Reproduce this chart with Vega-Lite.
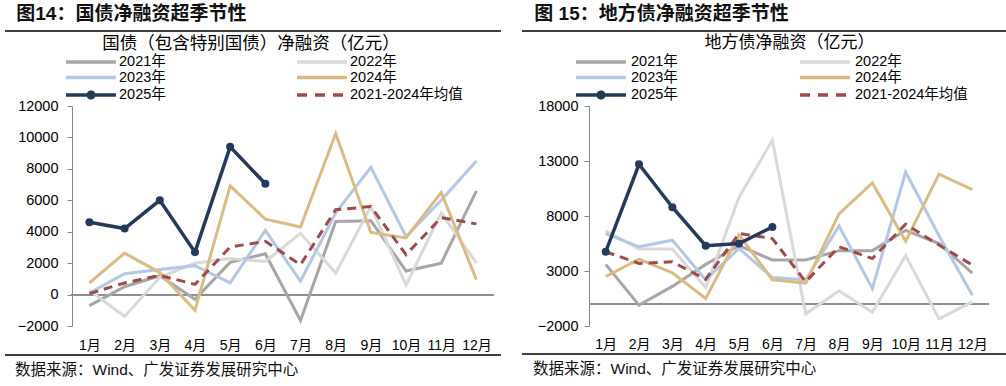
{
  "$schema": "https://vega.github.io/schema/vega-lite/v6.json",
  "padding": {"left": 4, "top": 5, "right": 0, "bottom": 0},
  "background": "white",
  "config": {
    "view": {"stroke": null},
    "font": "Liberation Sans, Noto Sans CJK SC",
    "axis": {"labelOverlap": false}
  },
  "datasets": {
    "gz": [
      {"s":"2021年","n":1,"v":-700},{"s":"2021年","n":2,"v":500},{"s":"2021年","n":3,"v":1200},{"s":"2021年","n":4,"v":-300},{"s":"2021年","n":5,"v":2050},{"s":"2021年","n":6,"v":2600},{"s":"2021年","n":7,"v":-1650},{"s":"2021年","n":8,"v":4650},{"s":"2021年","n":9,"v":4700},{"s":"2021年","n":10,"v":1500},{"s":"2021年","n":11,"v":2000},{"s":"2021年","n":12,"v":6600},
      {"s":"2022年","n":1,"v":270},{"s":"2022年","n":2,"v":-1400},{"s":"2022年","n":3,"v":1100},{"s":"2022年","n":4,"v":2000},{"s":"2022年","n":5,"v":2300},{"s":"2022年","n":6,"v":2100},{"s":"2022年","n":7,"v":3900},{"s":"2022年","n":8,"v":1370},{"s":"2022年","n":9,"v":5600},{"s":"2022年","n":10,"v":600},{"s":"2022年","n":11,"v":5200},{"s":"2022年","n":12,"v":2000},
      {"s":"2023年","n":1,"v":100},{"s":"2023年","n":2,"v":1330},{"s":"2023年","n":3,"v":1600},{"s":"2023年","n":4,"v":1840},{"s":"2023年","n":5,"v":740},{"s":"2023年","n":6,"v":4080},{"s":"2023年","n":7,"v":850},{"s":"2023年","n":8,"v":5200},{"s":"2023年","n":9,"v":8100},{"s":"2023年","n":10,"v":3700},{"s":"2023年","n":11,"v":6000},{"s":"2023年","n":12,"v":8500},
      {"s":"2024年","n":1,"v":750},{"s":"2024年","n":2,"v":2640},{"s":"2024年","n":3,"v":1400},{"s":"2024年","n":4,"v":-1000},{"s":"2024年","n":5,"v":6920},{"s":"2024年","n":6,"v":4800},{"s":"2024年","n":7,"v":4300},{"s":"2024年","n":8,"v":10250},{"s":"2024年","n":9,"v":3950},{"s":"2024年","n":10,"v":3600},{"s":"2024年","n":11,"v":6500},{"s":"2024年","n":12,"v":950},
      {"s":"2021-2024年均值","n":1,"v":60},{"s":"2021-2024年均值","n":2,"v":740},{"s":"2021-2024年均值","n":3,"v":1220},{"s":"2021-2024年均值","n":4,"v":650},{"s":"2021-2024年均值","n":5,"v":3020},{"s":"2021-2024年均值","n":6,"v":3390},{"s":"2021-2024年均值","n":7,"v":1900},{"s":"2021-2024年均值","n":8,"v":5400},{"s":"2021-2024年均值","n":9,"v":5600},{"s":"2021-2024年均值","n":10,"v":2540},{"s":"2021-2024年均值","n":11,"v":4900},{"s":"2021-2024年均值","n":12,"v":4500},
      {"s":"2025年","n":1,"v":4600},{"s":"2025年","n":2,"v":4200},{"s":"2025年","n":3,"v":6000},{"s":"2025年","n":4,"v":2700},{"s":"2025年","n":5,"v":9400},{"s":"2025年","n":6,"v":7050}
    ],
    "df": [
      {"s":"2021年","n":1,"v":3600},{"s":"2021年","n":2,"v":-100},{"s":"2021年","n":3,"v":1600},{"s":"2021年","n":4,"v":3600},{"s":"2021年","n":5,"v":5300},{"s":"2021年","n":6,"v":4000},{"s":"2021年","n":7,"v":4000},{"s":"2021年","n":8,"v":4850},{"s":"2021年","n":9,"v":4850},{"s":"2021年","n":10,"v":6700},{"s":"2021年","n":11,"v":5500},{"s":"2021年","n":12,"v":2800},
      {"s":"2022年","n":1,"v":6650},{"s":"2022年","n":2,"v":5000},{"s":"2022年","n":3,"v":5000},{"s":"2022年","n":4,"v":1500},{"s":"2022年","n":5,"v":9700},{"s":"2022年","n":6,"v":14900},{"s":"2022年","n":7,"v":-900},{"s":"2022年","n":8,"v":1200},{"s":"2022年","n":9,"v":-750},{"s":"2022年","n":10,"v":4400},{"s":"2022年","n":11,"v":-1350},{"s":"2022年","n":12,"v":200},
      {"s":"2023年","n":1,"v":6400},{"s":"2023年","n":2,"v":5200},{"s":"2023年","n":3,"v":5800},{"s":"2023年","n":4,"v":2200},{"s":"2023年","n":5,"v":5050},{"s":"2023年","n":6,"v":2400},{"s":"2023年","n":7,"v":2200},{"s":"2023年","n":8,"v":7100},{"s":"2023年","n":9,"v":1400},{"s":"2023年","n":10,"v":12000},{"s":"2023年","n":11,"v":6200},{"s":"2023年","n":12,"v":800},
      {"s":"2024年","n":1,"v":2500},{"s":"2024年","n":2,"v":4080},{"s":"2024年","n":3,"v":2840},{"s":"2024年","n":4,"v":500},{"s":"2024年","n":5,"v":6300},{"s":"2024年","n":6,"v":2200},{"s":"2024年","n":7,"v":1900},{"s":"2024年","n":8,"v":8200},{"s":"2024年","n":9,"v":11000},{"s":"2024年","n":10,"v":5700},{"s":"2024年","n":11,"v":11800},{"s":"2024年","n":12,"v":10400},
      {"s":"2021-2024年均值","n":1,"v":4750},{"s":"2021-2024年均值","n":2,"v":3690},{"s":"2021-2024年均值","n":3,"v":3840},{"s":"2021-2024年均值","n":4,"v":2240},{"s":"2021-2024年均值","n":5,"v":6410},{"s":"2021-2024年均值","n":6,"v":5950},{"s":"2021-2024年均值","n":7,"v":2020},{"s":"2021-2024年均值","n":8,"v":5200},{"s":"2021-2024年均值","n":9,"v":4140},{"s":"2021-2024年均值","n":10,"v":7260},{"s":"2021-2024年均值","n":11,"v":5360},{"s":"2021-2024年均值","n":12,"v":3540},
      {"s":"2025年","n":1,"v":4750},{"s":"2025年","n":2,"v":12700},{"s":"2025年","n":3,"v":8800},{"s":"2025年","n":4,"v":5300},{"s":"2025年","n":5,"v":5500},{"s":"2025年","n":6,"v":7000}
    ]
  },
  "hconcat": [
    {
      "columns": 1,
      "spacing": 2,
      "title": {"text": "图14：国债净融资超季节性", "anchor": "start", "frame": "bounds", "fontSize": 19, "fontWeight": "bold", "font": "Liberation Sans, Noto Sans CJK SC", "color": "#111111", "offset": 6, "dx": 12},
      "resolve": {"scale": {"color": "independent"}, "legend": {"color": "independent"}},
      "concat": [
        {
          "width": 496, "height": 2,
          "data": {"values": [{}]},
          "mark": {"type": "rule", "color": "#000000", "strokeWidth": 1.4},
          "encoding": {
            "x": {"datum": 0, "type": "quantitative", "scale": {"domain": [0, 1], "nice": false, "zero": false}, "axis": null},
            "x2": {"datum": 1},
            "y": {"datum": 0.5, "type": "quantitative", "scale": {"domain": [0, 1], "nice": false, "zero": false}, "axis": null}
          }
        },
        {
          "width": 496, "height": 220,
          "data": {"name": "gz"},
          "title": {"text": "国债（包含特别国债）净融资（亿元）", "anchor": "middle", "frame": "group", "dx": -2, "fontSize": 17.5, "fontWeight": "normal", "font": "Noto Sans CJK SC", "color": "#000000", "offset": 2},
          "encoding": {
            "x": {"field": "n", "type": "quantitative", "scale": {"domain": [-1.4, 12.699], "nice": false, "zero": false}, "axis": {"title": null, "values": [1,2,3,4,5,6,7,8,9,10,11,12], "grid": false, "domain": false, "ticks": false, "labelFlush": false, "labelExpr": "datum.value + '月'", "labelPadding": 12, "labelFontSize": 14, "labelFont": "Liberation Sans, Noto Sans CJK SC", "labelColor": "#000000", "labelAngle": 0}},
            "y": {"field": "v", "type": "quantitative", "scale": {"domain": [-2000, 12000], "nice": false, "zero": false}, "axis": {"title": null, "offset": -67, "values": [-2000, 0, 2000, 4000, 6000, 8000, 10000, 12000], "format": "d", "labelOverlap": false, "grid": false, "domain": true, "domainColor": "#888888", "ticks": true, "tickColor": "#888888", "tickSize": 5, "labelPadding": 9, "labelFontSize": 14.5, "labelFont": "Liberation Sans", "labelColor": "#000000"}}
          },
          "layer": [
            {"mark": {"type": "rule", "color": "#8c8c8c", "strokeWidth": 1},
             "encoding": {
               "x": {"datum": 0.5, "type": "quantitative", "axis": {"title": null, "values": [1,2,3,4,5,6,7,8,9,10,11,12], "grid": false, "domain": false, "ticks": false, "labelFlush": false, "labelExpr": "datum.value + '月'", "labelPadding": 12, "labelFontSize": 14, "labelFont": "Liberation Sans, Noto Sans CJK SC", "labelColor": "#000000", "labelAngle": 0}},
               "x2": {"datum": 12.5},
               "y": {"datum": 0, "type": "quantitative", "axis": {"title": null, "offset": -67, "values": [-2000, 0, 2000, 4000, 6000, 8000, 10000, 12000], "format": "d", "labelOverlap": false, "grid": false, "domain": true, "domainColor": "#888888", "ticks": true, "tickColor": "#888888", "tickSize": 5, "labelPadding": 9, "labelFontSize": 14.5, "labelFont": "Liberation Sans", "labelColor": "#000000"}}
             }},
            {
              "transform": [{"filter": {"field": "s", "oneOf": ["2021年", "2022年", "2023年", "2024年"]}}],
              "mark": {"type": "line", "strokeWidth": 3},
              "encoding": {
                "color": {"field": "s", "type": "nominal",
                  "scale": {"domain": ["2021年", "2022年", "2023年", "2024年", "2025年", "2021-2024年均值"], "range": ["#A6A6A6", "#D9D9D9", "#B4C7E7", "#DCBB83", "#25395A", "#A04A4A"]},
                  "legend": {"orient": "top", "columns": 2, "title": null, "symbolType": "M8.49,0H16.49", "symbolSize": 156, "symbolStrokeWidth": 3.5, "labelFontSize": 14.5, "labelFont": "Liberation Sans, Noto Sans CJK SC", "labelColor": "#000000", "labelOffset": 98, "columnPadding": 70, "rowPadding": 0.5, "offset": 1,
                    "encode": {"symbols": {"update": {
                      "shape": {"signal": "datum.value === '2025年' ? 'M8.49,0H16.49M12.04,0A0.45,0.45 0 1 1 12.94,0A0.45,0.45 0 1 1 12.04,0Z' : 'M8.49,0H16.49'"},
                      "strokeDash": {"signal": "datum.value === '2021-2024年均值' ? [10,8] : [1,0]"},
                      "fill": {"signal": "datum.value === '2025年' ? '#25395A' : 'transparent'"},
                      "strokeWidth": {"value": 3.5}
                    }}}}
                }
              }
            },
            {
              "transform": [{"filter": {"field": "s", "equal": "2021-2024年均值"}}],
              "mark": {"type": "line", "strokeWidth": 3, "strokeDash": [9, 6]},
              "encoding": {"color": {"field": "s", "type": "nominal"}}
            },
            {
              "transform": [{"filter": {"field": "s", "equal": "2025年"}}],
              "mark": {"type": "line", "strokeWidth": 3.5, "point": {"filled": true, "size": 64}},
              "encoding": {"color": {"field": "s", "type": "nominal"}}
            }
          ]
        },
        {
          "width": 496, "height": 2,
          "data": {"values": [{}]},
          "mark": {"type": "rule", "color": "#000000", "strokeWidth": 1.3},
          "encoding": {
            "x": {"datum": 0, "type": "quantitative", "scale": {"domain": [0, 1], "nice": false, "zero": false}, "axis": null},
            "x2": {"datum": 1},
            "y": {"datum": 0.5, "type": "quantitative", "scale": {"domain": [0, 1], "nice": false, "zero": false}, "axis": null}
          },
          "title": {"text": "数据来源：Wind、广发证券发展研究中心", "orient": "bottom", "anchor": "start", "frame": "group", "fontSize": 15.5, "fontWeight": "normal", "font": "Liberation Sans, Noto Sans CJK SC", "color": "#111111", "offset": 7, "dx": 10}
        }
      ]
    },
    {
      "columns": 1,
      "spacing": 2,
      "title": {"text": "图 15：地方债净融资超季节性", "anchor": "start", "frame": "bounds", "fontSize": 19, "fontWeight": "bold", "font": "Liberation Sans, Noto Sans CJK SC", "color": "#111111", "offset": 6, "dx": 13},
      "resolve": {"scale": {"color": "independent"}, "legend": {"color": "independent"}},
      "concat": [
        {
          "width": 487, "height": 2,
          "data": {"values": [{}]},
          "mark": {"type": "rule", "color": "#000000", "strokeWidth": 1.4},
          "encoding": {
            "x": {"datum": 0, "type": "quantitative", "scale": {"domain": [0, 1], "nice": false, "zero": false}, "axis": null},
            "x2": {"datum": 1},
            "y": {"datum": 0.5, "type": "quantitative", "scale": {"domain": [0, 1], "nice": false, "zero": false}, "axis": null}
          }
        },
        {
          "width": 487, "height": 220,
          "data": {"name": "df"},
          "title": {"text": "地方债净融资（亿元）", "anchor": "middle", "frame": "group", "dx": 24, "fontSize": 17, "fontWeight": "normal", "font": "Noto Sans CJK SC", "color": "#000000", "offset": 2},
          "encoding": {
            "x": {"field": "n", "type": "quantitative", "scale": {"domain": [-1.511, 13.1], "nice": false, "zero": false}, "axis": {"title": null, "values": [1,2,3,4,5,6,7,8,9,10,11,12], "grid": false, "domain": false, "ticks": false, "labelFlush": false, "labelExpr": "datum.value + '月'", "labelPadding": 11, "labelFontSize": 14, "labelFont": "Liberation Sans, Noto Sans CJK SC", "labelColor": "#000000", "labelAngle": 0}},
            "y": {"field": "v", "type": "quantitative", "scale": {"domain": [-2000, 18000], "nice": false, "zero": false}, "axis": {"title": null, "offset": -67, "values": [-2000, 3000, 8000, 13000, 18000], "format": "d", "labelOverlap": false, "grid": false, "domain": true, "domainColor": "#888888", "ticks": true, "tickColor": "#888888", "tickSize": 5, "labelPadding": 6, "labelFontSize": 14.5, "labelFont": "Liberation Sans", "labelColor": "#000000"}}
          },
          "layer": [
            {"mark": {"type": "rule", "color": "#8c8c8c", "strokeWidth": 1},
             "encoding": {
               "x": {"datum": 0.5, "type": "quantitative", "axis": {"title": null, "values": [1,2,3,4,5,6,7,8,9,10,11,12], "grid": false, "domain": false, "ticks": false, "labelFlush": false, "labelExpr": "datum.value + '月'", "labelPadding": 11, "labelFontSize": 14, "labelFont": "Liberation Sans, Noto Sans CJK SC", "labelColor": "#000000", "labelAngle": 0}},
               "x2": {"datum": 12.5},
               "y": {"datum": 0, "type": "quantitative", "axis": {"title": null, "offset": -67, "values": [-2000, 3000, 8000, 13000, 18000], "format": "d", "labelOverlap": false, "grid": false, "domain": true, "domainColor": "#888888", "ticks": true, "tickColor": "#888888", "tickSize": 5, "labelPadding": 6, "labelFontSize": 14.5, "labelFont": "Liberation Sans", "labelColor": "#000000"}}
             }},
            {
              "transform": [{"filter": {"field": "s", "oneOf": ["2021年", "2022年", "2023年", "2024年"]}}],
              "mark": {"type": "line", "strokeWidth": 3},
              "encoding": {
                "color": {"field": "s", "type": "nominal",
                  "scale": {"domain": ["2021年", "2022年", "2023年", "2024年", "2025年", "2021-2024年均值"], "range": ["#A6A6A6", "#D9D9D9", "#B4C7E7", "#DCBB83", "#25395A", "#A04A4A"]},
                  "legend": {"orient": "top", "columns": 2, "title": null, "symbolType": "M7.37,0H15.37", "symbolSize": 156, "symbolStrokeWidth": 3.5, "labelFontSize": 14.5, "labelFont": "Liberation Sans, Noto Sans CJK SC", "labelColor": "#000000", "labelOffset": 93, "columnPadding": 68, "rowPadding": 0.5, "offset": 1,
                    "encode": {"symbols": {"update": {
                      "shape": {"signal": "datum.value === '2025年' ? 'M7.37,0H15.37M10.92,0A0.45,0.45 0 1 1 11.82,0A0.45,0.45 0 1 1 10.92,0Z' : 'M7.37,0H15.37'"},
                      "strokeDash": {"signal": "datum.value === '2021-2024年均值' ? [10,8] : [1,0]"},
                      "fill": {"signal": "datum.value === '2025年' ? '#25395A' : 'transparent'"},
                      "strokeWidth": {"value": 3.5}
                    }}}}
                }
              }
            },
            {
              "transform": [{"filter": {"field": "s", "equal": "2021-2024年均值"}}],
              "mark": {"type": "line", "strokeWidth": 3, "strokeDash": [9, 6]},
              "encoding": {"color": {"field": "s", "type": "nominal"}}
            },
            {
              "transform": [{"filter": {"field": "s", "equal": "2025年"}}],
              "mark": {"type": "line", "strokeWidth": 3.5, "point": {"filled": true, "size": 64}},
              "encoding": {"color": {"field": "s", "type": "nominal"}}
            }
          ]
        },
        {
          "width": 487, "height": 2,
          "data": {"values": [{}]},
          "mark": {"type": "rule", "color": "#000000", "strokeWidth": 1.3},
          "encoding": {
            "x": {"datum": 0, "type": "quantitative", "scale": {"domain": [0, 1], "nice": false, "zero": false}, "axis": null},
            "x2": {"datum": 1},
            "y": {"datum": 0.5, "type": "quantitative", "scale": {"domain": [0, 1], "nice": false, "zero": false}, "axis": null}
          },
          "title": {"text": "数据来源：Wind、广发证券发展研究中心", "orient": "bottom", "anchor": "start", "frame": "group", "fontSize": 15.5, "fontWeight": "normal", "font": "Liberation Sans, Noto Sans CJK SC", "color": "#111111", "offset": 7, "dx": 11}
        }
      ]
    }
  ],
  "spacing": 19
}
